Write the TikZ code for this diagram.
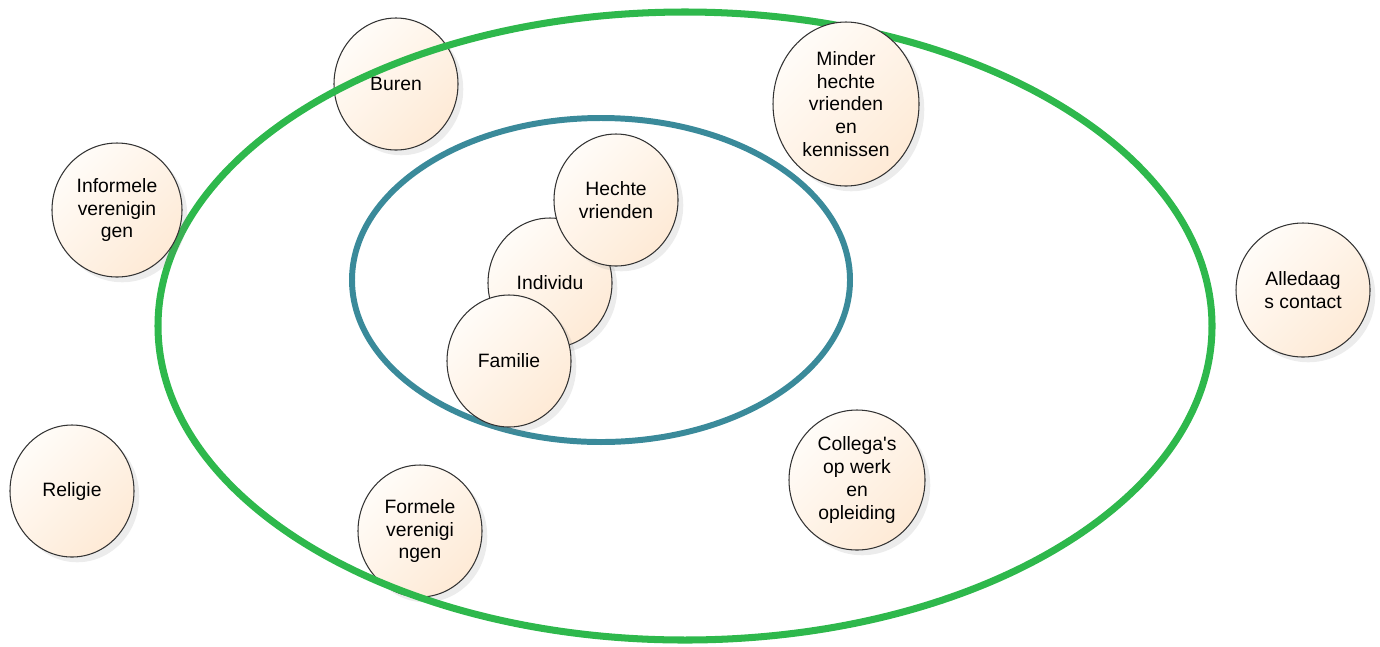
\documentclass[tikz,border=0pt]{standalone}
\usepackage{fontspec}
\setmainfont{Liberation Sans}[Ligatures=TeXOff]
\usetikzlibrary{shapes.geometric, shadows}
\definecolor{ringgreen}{RGB}{46,184,76}
\definecolor{ringblue}{RGB}{58,138,154}
\definecolor{peachlight}{RGB}{255,252,248}
\definecolor{peachdark}{RGB}{254,234,214}

\begin{document}
\begin{tikzpicture} \tikzset{bubble/.style={ellipse, draw=black!80, line width=0.6pt, top color=peachlight, bottom color=peachdark, shading angle=45, drop shadow={opacity=0.15, shadow xshift=3pt, shadow yshift=-3pt}, align=center, inner sep=0pt, font=\fontsize{11}{13}\selectfont}}
\useasboundingbox (0,0) rectangle (27.6,-12.92);
\node (buren) at (7.92,-1.68) [bubble, minimum width=2.48cm, minimum height=2.64cm] {Buren};
\node (formeel) at (8.4,-10.62) [bubble, minimum width=2.48cm, minimum height=2.64cm] {Formele\\verenigi\\ngen};
\draw [ringgreen, line width=4pt] (13.7,-6.52) ellipse [x radius=10.54, y radius=6.28];
\draw [ringblue, line width=3.4pt] (12.02,-5.6) ellipse [x radius=4.98, y radius=3.24];
\node (informeel) at (2.34,-4.2) [bubble, minimum width=2.6cm, minimum height=2.68cm] {Informele\\verenigin\\gen};
\node (minder) at (16.92,-2.08) [bubble, minimum width=2.92cm, minimum height=3.28cm] {Minder\\hechte\\vrienden\\en\\kennissen};
\node (individu) at (11.0,-5.66) [bubble, minimum width=2.48cm, minimum height=2.6cm] {Individu};
\node (hecht) at (12.32,-4.0) [bubble, minimum width=2.48cm, minimum height=2.64cm] {Hechte\\vrienden};
\node (familie) at (10.18,-7.22) [bubble, minimum width=2.48cm, minimum height=2.64cm] {Familie};
\node (alledaags) at (26.06,-5.8) [bubble, minimum width=2.68cm, minimum height=2.68cm] {Alledaag\\s contact};
\node (religie) at (1.44,-9.82) [bubble, minimum width=2.48cm, minimum height=2.64cm] {Religie};
\node (collega) at (17.14,-9.6) [bubble, minimum width=2.72cm, minimum height=2.8cm] {Collega's\\op werk\\en\\opleiding};
\end{tikzpicture}
\end{document}
